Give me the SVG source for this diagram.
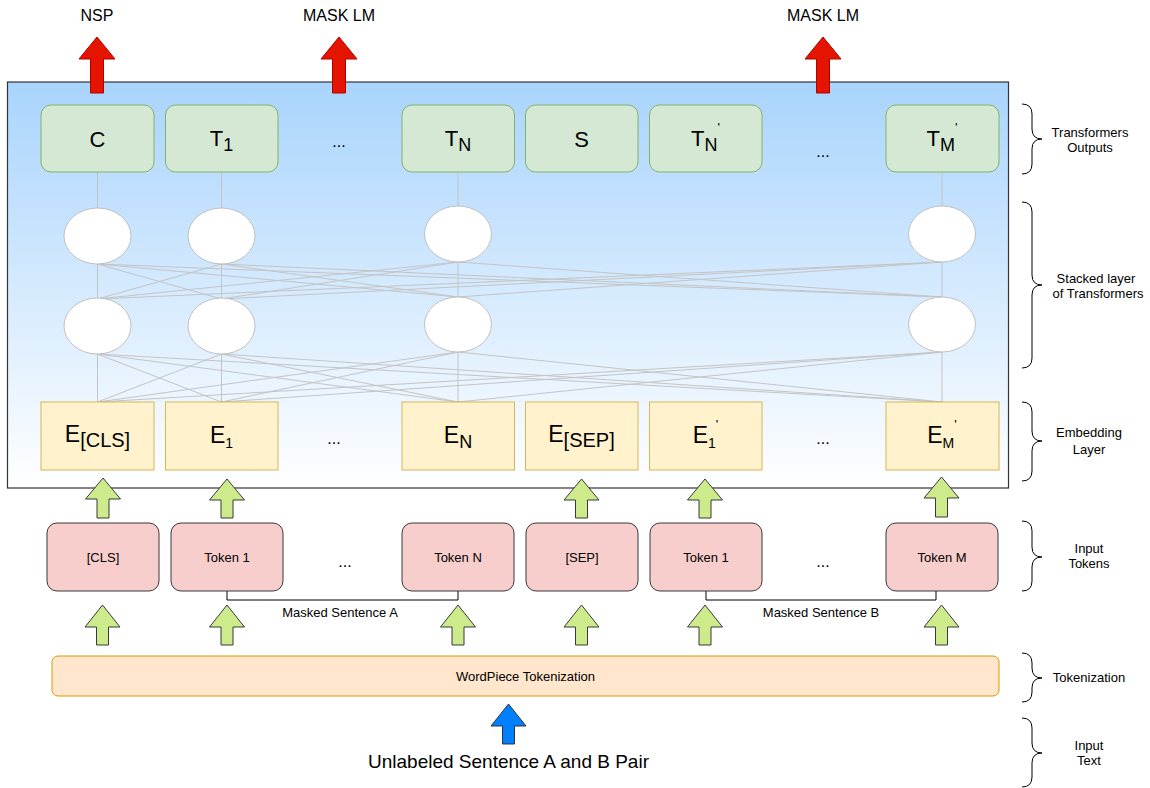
<svg xmlns="http://www.w3.org/2000/svg" width="1150" height="788" viewBox="0 0 1150 788">
  <defs>
    <linearGradient id="bgGrad" x1="0" y1="0" x2="0" y2="1">
      <stop offset="0" stop-color="#a9d4fd"/>
      <stop offset="1" stop-color="#ffffff"/>
    </linearGradient>
    <style>
      text { font-family: "Liberation Sans", Arial, Helvetica, sans-serif; fill: #000; }
      .out { fill: #d5e8d4; stroke: #82b366; stroke-width: 1; }
      .emb { fill: #fff2cc; stroke: #d6b656; stroke-width: 1; }
      .tok { fill: #f8cecc; stroke: #36393d; stroke-width: 1; }
      .wp { fill: #ffe6cc; stroke: #d79b00; stroke-width: 1; }
      .cell { fill: #ffffff; stroke: #c0c0c0; stroke-width: 1; }
      .link { stroke: #c4c4c4; stroke-width: 1; fill: none; }
      .bracket { stroke: #000; stroke-width: 1; fill: none; }
      .brace { stroke: #000; stroke-width: 1; fill: none; }
      .red { fill: #e51400; stroke: #b20000; stroke-width: 1; }
      .green { fill: #cdeb8b; stroke: #36393d; stroke-width: 1; }
      .blue { fill: #007fff; stroke: #333333; stroke-width: 1; }
      .big { font-size: 22px; }
      .ebig { font-size: 23px; }
      .sm { font-size: 13px; }
      .mid { font-size: 16px; }
      .dots { font-size: 16px; }
    </style>
  </defs>

  <!-- transformer container -->
  <g id="container">
    <rect x="7.5" y="82" width="1001" height="406" fill="url(#bgGrad)" stroke="#333333" stroke-width="1.2"/>
  </g>

  <!-- connectors between layers -->
  <g id="connectors">
    <!-- outputs to first layer -->
    <line class="link" x1="97.5" y1="172" x2="97.5" y2="208"/>
    <line class="link" x1="221.5" y1="172" x2="221.5" y2="208"/>
    <line class="link" x1="458" y1="172" x2="458" y2="206"/>
    <line class="link" x1="942" y1="172" x2="942" y2="206"/>
    <!-- first layer to second layer (full mesh) -->
    <g>
      <line class="link" x1="97.5" y1="264" x2="97.5" y2="299"/>
      <line class="link" x1="97.5" y1="264" x2="221.5" y2="299"/>
      <line class="link" x1="97.5" y1="264" x2="458" y2="297"/>
      <line class="link" x1="97.5" y1="264" x2="942" y2="297"/>
      <line class="link" x1="221.5" y1="264" x2="97.5" y2="299"/>
      <line class="link" x1="221.5" y1="264" x2="221.5" y2="299"/>
      <line class="link" x1="221.5" y1="264" x2="458" y2="297"/>
      <line class="link" x1="221.5" y1="264" x2="942" y2="297"/>
      <line class="link" x1="458" y1="262" x2="97.5" y2="299"/>
      <line class="link" x1="458" y1="262" x2="221.5" y2="299"/>
      <line class="link" x1="458" y1="262" x2="458" y2="297"/>
      <line class="link" x1="458" y1="262" x2="942" y2="297"/>
      <line class="link" x1="942" y1="262" x2="97.5" y2="299"/>
      <line class="link" x1="942" y1="262" x2="221.5" y2="299"/>
      <line class="link" x1="942" y1="262" x2="458" y2="297"/>
      <line class="link" x1="942" y1="262" x2="942" y2="297"/>
    </g>
    <!-- second layer to embeddings (full mesh) -->
    <g>
      <line class="link" x1="97.5" y1="354" x2="97.5" y2="402"/>
      <line class="link" x1="97.5" y1="354" x2="221.5" y2="402"/>
      <line class="link" x1="97.5" y1="354" x2="458" y2="402"/>
      <line class="link" x1="97.5" y1="354" x2="942" y2="402"/>
      <line class="link" x1="221.5" y1="354" x2="97.5" y2="402"/>
      <line class="link" x1="221.5" y1="354" x2="221.5" y2="402"/>
      <line class="link" x1="221.5" y1="354" x2="458" y2="402"/>
      <line class="link" x1="221.5" y1="354" x2="942" y2="402"/>
      <line class="link" x1="458" y1="352" x2="97.5" y2="402"/>
      <line class="link" x1="458" y1="352" x2="221.5" y2="402"/>
      <line class="link" x1="458" y1="352" x2="458" y2="402"/>
      <line class="link" x1="458" y1="352" x2="942" y2="402"/>
      <line class="link" x1="942" y1="352" x2="97.5" y2="402"/>
      <line class="link" x1="942" y1="352" x2="221.5" y2="402"/>
      <line class="link" x1="942" y1="352" x2="458" y2="402"/>
      <line class="link" x1="942" y1="352" x2="942" y2="402"/>
    </g>
    <!-- sentence brackets under tokens -->
    <polyline class="bracket" points="227,591 227,600 458,600 458,591"/>
    <polyline class="bracket" points="706,591 706,600 936,600 936,591"/>
  </g>

  <!-- transformer cells -->
  <g id="cells">
    <ellipse class="cell" cx="97.5" cy="236" rx="33.5" ry="28"/>
    <ellipse class="cell" cx="221.5" cy="236" rx="33.5" ry="28"/>
    <ellipse class="cell" cx="458" cy="234" rx="33.5" ry="28"/>
    <ellipse class="cell" cx="942" cy="234" rx="33.5" ry="28"/>
    <ellipse class="cell" cx="97.5" cy="326" rx="33.5" ry="28"/>
    <ellipse class="cell" cx="221.5" cy="326" rx="33.5" ry="28"/>
    <ellipse class="cell" cx="458" cy="324.5" rx="33.5" ry="27.5"/>
    <ellipse class="cell" cx="942" cy="324.5" rx="33.5" ry="27.5"/>
  </g>

  <!-- transformer outputs -->
  <g id="out-c"><rect class="out" x="41" y="105" width="113" height="67" rx="10"/><text class="big" x="97.5" y="147" text-anchor="middle">C</text></g>
  <g id="out-t1"><rect class="out" x="165.5" y="105" width="112.5" height="67" rx="10"/><text class="big" x="221.5" y="146" text-anchor="middle">T<tspan dy="5" font-size="18">1</tspan></text></g>
  <g id="out-dots1"><text class="dots" x="339" y="147" text-anchor="middle">...</text></g>
  <g id="out-tn"><rect class="out" x="402" y="105" width="112.5" height="67" rx="10"/><text class="big" x="458" y="146" text-anchor="middle">T<tspan dy="5" font-size="18">N</tspan></text></g>
  <g id="out-s"><rect class="out" x="525.5" y="105" width="112.5" height="67" rx="10"/><text class="big" x="581.5" y="147" text-anchor="middle">S</text></g>
  <g id="out-tn2"><rect class="out" x="649.5" y="105" width="112.5" height="67" rx="10"/><text class="big" x="705.5" y="146" text-anchor="middle">T<tspan dy="5" font-size="18">N</tspan><tspan dy="-19" font-size="13">'</tspan></text></g>
  <g id="out-dots2"><text class="dots" x="823" y="157" text-anchor="middle">...</text></g>
  <g id="out-tm"><rect class="out" x="886" y="105" width="113" height="67" rx="10"/><text class="big" x="942" y="146" text-anchor="middle">T<tspan dy="5" font-size="18">M</tspan><tspan dy="-19" font-size="13">'</tspan></text></g>

  <!-- embedding layer -->
  <g id="emb-cls"><rect class="emb" x="41" y="402" width="113" height="68"/><text class="ebig" x="97.5" y="442" text-anchor="middle">E<tspan dy="5" font-size="20">[CLS]</tspan></text></g>
  <g id="emb-1"><rect class="emb" x="165.5" y="402" width="112.5" height="68"/><text class="ebig" x="221.5" y="443" text-anchor="middle">E<tspan dy="5" font-size="14">1</tspan></text></g>
  <g id="emb-dots1"><text class="dots" x="334" y="444" text-anchor="middle">...</text></g>
  <g id="emb-n"><rect class="emb" x="402" y="402" width="112.5" height="68"/><text class="ebig" x="458" y="443" text-anchor="middle">E<tspan dy="5" font-size="18">N</tspan></text></g>
  <g id="emb-sep"><rect class="emb" x="525.5" y="402" width="112.5" height="68"/><text class="ebig" x="581.5" y="442" text-anchor="middle">E<tspan dy="5" font-size="20">[SEP]</tspan></text></g>
  <g id="emb-1b"><rect class="emb" x="649.5" y="402" width="112.5" height="68"/><text class="ebig" x="705.5" y="443" text-anchor="middle">E<tspan dy="5" font-size="14">1</tspan><tspan dy="-19" font-size="13">'</tspan></text></g>
  <g id="emb-dots2"><text class="dots" x="823" y="444" text-anchor="middle">...</text></g>
  <g id="emb-m"><rect class="emb" x="886" y="402" width="113" height="68"/><text class="ebig" x="942" y="443" text-anchor="middle">E<tspan dy="5" font-size="14">M</tspan><tspan dy="-19" font-size="13">'</tspan></text></g>

  <!-- output arrows and task labels -->
  <g id="task-nsp">
    <text class="mid" x="97" y="21" text-anchor="middle">NSP</text>
    <path class="red" d="M97,37 L115,59 L103.5,59 L103.5,93 L90.5,93 L90.5,59 L79,59 Z"/>
  </g>
  <g id="task-mlm1">
    <text class="mid" x="339" y="21" text-anchor="middle">MASK LM</text>
    <path class="red" d="M339,37 L357,59 L345.5,59 L345.5,93 L332.5,93 L332.5,59 L321,59 Z"/>
  </g>
  <g id="task-mlm2">
    <text class="mid" x="823" y="21" text-anchor="middle">MASK LM</text>
    <path class="red" d="M823,37 L841,59 L829.5,59 L829.5,93 L816.5,93 L816.5,59 L805,59 Z"/>
  </g>

  <!-- arrows from tokens into embeddings -->
  <g id="arrows-embed">
    <path class="green" d="M103,478 L120.5,499 L109,499 L109,518 L97,518 L97,499 L85.5,499 Z"/>
    <path class="green" d="M227,479 L244.5,500 L233,500 L233,518 L221,518 L221,500 L209.5,500 Z"/>
    <path class="green" d="M581.5,479 L599,500 L587.5,500 L587.5,518 L575.5,518 L575.5,500 L564,500 Z"/>
    <path class="green" d="M705,479 L722.5,500 L711,500 L711,518 L699,518 L699,500 L687.5,500 Z"/>
    <path class="green" d="M941.5,477 L959,498 L947.5,498 L947.5,517 L935.5,517 L935.5,498 L924,498 Z"/>
  </g>

  <!-- input tokens -->
  <g id="tok-cls"><rect class="tok" x="47" y="523" width="112" height="68" rx="10"/><text class="sm" x="103" y="562" text-anchor="middle">[CLS]</text></g>
  <g id="tok-1a"><rect class="tok" x="171" y="523" width="112" height="68" rx="10"/><text class="sm" x="227" y="562" text-anchor="middle">Token 1</text></g>
  <g id="tok-dots1"><text class="dots" x="345" y="567" text-anchor="middle">...</text></g>
  <g id="tok-n"><rect class="tok" x="402" y="523" width="112" height="68" rx="10"/><text class="sm" x="458" y="562" text-anchor="middle">Token N</text></g>
  <g id="tok-sep"><rect class="tok" x="526" y="523" width="112" height="68" rx="10"/><text class="sm" x="582" y="562" text-anchor="middle">[SEP]</text></g>
  <g id="tok-1b"><rect class="tok" x="650" y="523" width="112" height="68" rx="10"/><text class="sm" x="706" y="562" text-anchor="middle">Token 1</text></g>
  <g id="tok-dots2"><text class="dots" x="823" y="567" text-anchor="middle">...</text></g>
  <g id="tok-m"><rect class="tok" x="886" y="523" width="112" height="68" rx="10"/><text class="sm" x="942" y="562" text-anchor="middle">Token M</text></g>

  <g id="label-sent-a"><text class="sm" x="340" y="617" text-anchor="middle">Masked Sentence A</text></g>
  <g id="label-sent-b"><text class="sm" x="821" y="617" text-anchor="middle">Masked Sentence B</text></g>

  <!-- arrows from tokenizer to tokens -->
  <g id="arrows-tokens">
    <path class="green" d="M102.5,605 L120,627 L108.5,627 L108.5,645 L96.5,645 L96.5,627 L85,627 Z"/>
    <path class="green" d="M227,605 L244.5,627 L233,627 L233,645 L221,645 L221,627 L209.5,627 Z"/>
    <path class="green" d="M458,605 L475.5,627 L464,627 L464,645 L452,645 L452,627 L440.5,627 Z"/>
    <path class="green" d="M581.5,605 L599,627 L587.5,627 L587.5,645 L575.5,645 L575.5,627 L564,627 Z"/>
    <path class="green" d="M705,605 L722.5,627 L711,627 L711,645 L699,645 L699,627 L687.5,627 Z"/>
    <path class="green" d="M941.5,605 L959,627 L947.5,627 L947.5,645 L935.5,645 L935.5,627 L924,627 Z"/>
  </g>

  <!-- tokenizer -->
  <g id="wordpiece">
    <rect class="wp" x="52" y="656" width="947" height="40" rx="6"/>
    <text class="sm" x="525.5" y="681" text-anchor="middle">WordPiece Tokenization</text>
  </g>

  <!-- raw input -->
  <g id="input-text">
    <path class="blue" d="M508.5,704 L526,726 L514.5,726 L514.5,744 L502.5,744 L502.5,726 L491,726 Z"/>
    <text x="508.5" y="768" text-anchor="middle" font-size="19">Unlabeled Sentence A and B Pair</text>
  </g>

  <!-- side braces -->
  <g id="brace-outputs">
    <path class="brace" d="M1022,104 Q1032,104 1032,114 L1032,129 Q1032,139 1042,139 Q1032,139 1032,149 L1032,164 Q1032,174 1022,174"/>
    <text class="sm" x="1090" y="137" text-anchor="middle">Transformers</text>
    <text class="sm" x="1090" y="152" text-anchor="middle">Outputs</text>
  </g>
  <g id="brace-stack">
    <path class="brace" d="M1022,202 Q1032,202 1032,212 L1032,275 Q1032,285 1042,285 Q1032,285 1032,295 L1032,358 Q1032,368 1022,368"/>
    <text class="sm" x="1096" y="283" text-anchor="middle">Stacked layer</text>
    <text class="sm" x="1098" y="298" text-anchor="middle">of Transformers</text>
  </g>
  <g id="brace-embed">
    <path class="brace" d="M1022,402 Q1032,402 1032,412 L1032,431 Q1032,441 1042,441 Q1032,441 1032,451 L1032,471 Q1032,481 1022,481"/>
    <text class="sm" x="1089" y="437" text-anchor="middle">Embedding</text>
    <text class="sm" x="1089" y="454" text-anchor="middle">Layer</text>
  </g>
  <g id="brace-tokens">
    <path class="brace" d="M1022,521 Q1032,521 1032,531 L1032,547 Q1032,557 1042,557 Q1032,557 1032,567 L1032,581 Q1032,591 1022,591"/>
    <text class="sm" x="1089" y="553" text-anchor="middle">Input</text>
    <text class="sm" x="1089" y="568" text-anchor="middle">Tokens</text>
  </g>
  <g id="brace-tokenize">
    <path class="brace" d="M1022,653 Q1032,653 1032,663 L1032,668 Q1032,678 1042,678 Q1032,678 1032,688 L1032,692 Q1032,702 1022,702"/>
    <text class="sm" x="1089" y="682" text-anchor="middle">Tokenization</text>
  </g>
  <g id="brace-input">
    <path class="brace" d="M1022,718 Q1032,718 1032,728 L1032,743 Q1032,753 1042,753 Q1032,753 1032,763 L1032,777 Q1032,787 1022,787"/>
    <text class="sm" x="1089" y="750" text-anchor="middle">Input</text>
    <text class="sm" x="1089" y="765" text-anchor="middle">Text</text>
  </g>
</svg>
